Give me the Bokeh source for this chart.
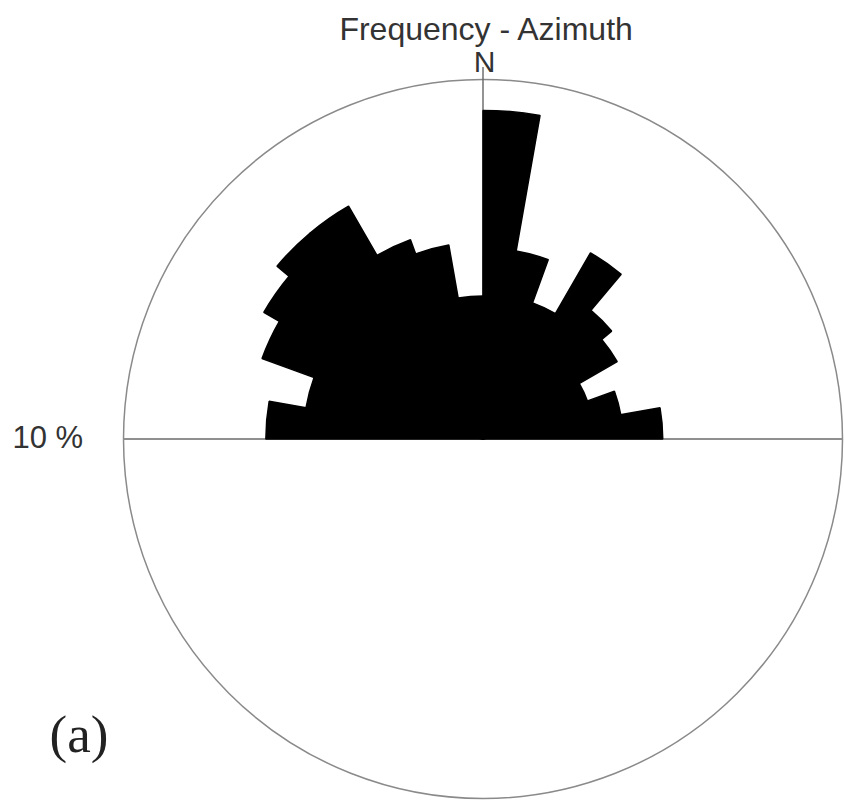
import numpy as np
from bokeh.plotting import figure
from bokeh.models import Label
from bokeh.embed import file_html
from bokeh.resources import INLINE

# Rose diagram data: azimuth bin starts (degrees) and frequency (%)
bin_start = [270, 280, 290, 300, 310, 320, 330, 340, 350,
             0, 10, 20, 30, 40, 50, 60, 70, 80]
bin_width = 10
frequency = [6.04, 5.0, 6.54, 7.04, 7.48, 7.48, 5.9, 5.48, 3.98,
             9.14, 5.31, 4.03, 5.98, 4.67, 4.31, 3.09, 3.89, 5.0]
ring_value = 10  # outer circle = 10 %
ring_label = "10 %"
title_text = "Frequency - Azimuth"
north_text = "N"
panel_text = "(a)"

W, H = 844, 803
px_per_unit = 35.95
cx_page, cy_page = 482.5, 438.5

x0 = -cx_page / px_per_unit
x1 = (W - cx_page) / px_per_unit
y1 = cy_page / px_per_unit
y0 = -(H - cy_page) / px_per_unit

p = figure(width=W, height=H, x_range=(x0, x1), y_range=(y0, y1),
           output_backend="svg", toolbar_location=None, min_border=0)
p.axis.visible = False
p.grid.visible = False
p.outline_line_color = None
p.background_fill_color = "white"
p.border_fill_color = "white"

# outer circle
p.circle(x=[0], y=[0], radius=ring_value, fill_color=None,
         line_color="#8a8a8a", line_width=1.5)
# horizontal E-W line across the circle
p.segment(x0=[-ring_value], y0=[0], x1=[ring_value], y1=[0],
          line_color="#8f8f8f", line_width=2)
# north line
p.segment(x0=[0], y0=[0], x1=[0], y1=[ring_value * 1.035],
          line_color="#666666", line_width=1.4)

# wedges: azimuth clockwise from north -> math angle anticlockwise from east
az_start = np.array(bin_start, dtype=float)
az_start = np.where(az_start >= 180, az_start - 360, az_start)
start_ang = np.deg2rad(90 - (az_start + bin_width))
end_ang = np.deg2rad(90 - az_start)
p.wedge(x=[0] * len(frequency), y=[0] * len(frequency), radius=frequency,
        start_angle=start_ang, end_angle=end_ang,
        fill_color="black", line_color="black", line_width=1.5)


def add_text(text, x_page, baseline_page, size, font, align, color):
    # empirical baseline correction for Label rendering
    y_page = baseline_page - 0.36 * size
    p.add_layout(Label(x=x_page, y=H - y_page, x_units="screen", y_units="screen",
                       text=text, text_align=align, text_baseline="alphabetic",
                       text_font=font, text_font_size=f"{size}px",
                       text_color=color))


add_text(title_text, 486.5, 40, 32, "Liberation Sans", "center", "#333333")
add_text(north_text, 484, 72, 30, "Liberation Sans", "center", "#333333")
add_text(ring_label, 12, 448, 31, "Liberation Sans", "left", "#333333")
add_text(panel_text, 49, 753, 53, "Liberation Serif", "left", "#222222")

open("out.html", "w").write(file_html(p, INLINE))
